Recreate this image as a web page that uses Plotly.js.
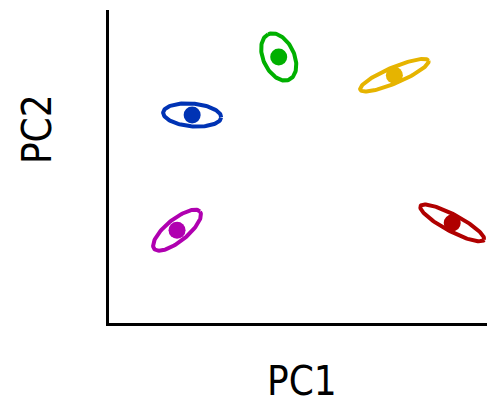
<!DOCTYPE html>
<html>
<head>
<meta charset="utf-8">
<script src="https://cdn.plot.ly/plotly-3.0.1.min.js"></script>
<style>html,body{margin:0;padding:0;background:#fff;}#chart{width:487px;height:406px;}</style>
</head>
<body>
<div id="chart"></div>
<script>
// Group data (PCA scores: centroid + confidence ellipse)
const groups = ["Green", "Yellow", "Blue", "Purple", "Red"];
const pc1 = [4.49, 7.55, 2.20, 1.80, 9.08];
const pc2 = [7.02, 6.54, 5.49, 2.45, 2.64];
const ellA = [0.66, 0.98, 0.77, 0.78, 0.95];   // semi-major axis
const ellB = [0.41, 0.21, 0.30, 0.29, 0.22];   // semi-minor axis
const ellAngle = [115, 23, -5, 39, -28];       // degrees
const colors = ["rgb(0,176,0)", "rgb(230,180,0)", "rgb(0,51,180)", "rgb(176,0,176)", "rgb(176,0,0)"];

const traces = [];
const N = 120;
groups.forEach((g, i) => {
  const th = ellAngle[i] * Math.PI / 180;
  const xs = [], ys = [];
  for (let k = 0; k <= N; k++) {
    const t = 2 * Math.PI * k / N;
    const u = ellA[i] * Math.cos(t), v = ellB[i] * Math.sin(t);
    xs.push(pc1[i] + u * Math.cos(th) - v * Math.sin(th));
    ys.push(pc2[i] + u * Math.sin(th) + v * Math.cos(th));
  }
  traces.push({x: xs, y: ys, mode: "lines", line: {color: colors[i], width: 4}, hoverinfo: "skip", showlegend: false});
  traces.push({x: [pc1[i]], y: [pc2[i]], mode: "markers", marker: {color: colors[i], size: 17}, name: g, showlegend: false});
});

const font = "Liberation Sans Narrow, DejaVu Sans Condensed, Arial Narrow, sans-serif";
const layout = {
  width: 487, height: 406,
  margin: {l: 109, r: 0, t: 10, b: 83},
  paper_bgcolor: "#fff", plot_bgcolor: "#fff",
  xaxis: {range: [0, 10], showline: true, linecolor: "#000", linewidth: 3, showgrid: false, zeroline: false, showticklabels: false, ticks: ""},
  yaxis: {range: [0, 8.26], showline: true, linecolor: "#000", linewidth: 3, showgrid: false, zeroline: false, showticklabels: false, ticks: ""},
  annotations: [
    {text: "PC1", xref: "paper", yref: "paper", x: 0.51, y: -0.185, xanchor: "center", yanchor: "middle", showarrow: false, font: {family: font, size: 40, color: "#000"}},
    {text: "PC2", xref: "paper", yref: "paper", x: -0.19, y: 0.62, xanchor: "center", yanchor: "middle", textangle: -90, showarrow: false, font: {family: font, size: 40, color: "#000"}}
  ]
};
Plotly.newPlot("chart", traces, layout, {displayModeBar: false, staticPlot: true});
</script>
</body>
</html>
